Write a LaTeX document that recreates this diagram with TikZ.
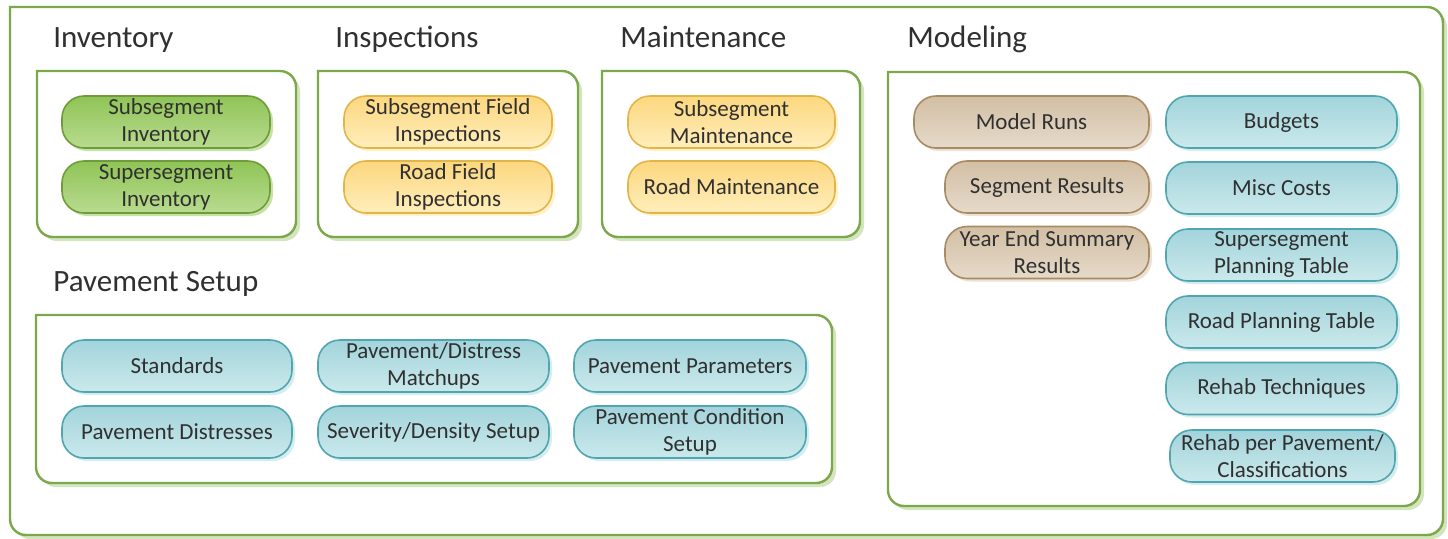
\documentclass[tikz,border=0pt]{standalone}
\usepackage{fontspec}
\setmainfont{Carlito}
\usetikzlibrary{shadows}

\definecolor{frameline}{HTML}{7BA84A}
\definecolor{frameshade}{HTML}{D3E4BE}
\definecolor{inkgray}{HTML}{303030}
\definecolor{greenline}{HTML}{6E9C3A}
\definecolor{greentop}{HTML}{8FC456}
\definecolor{greenbot}{HTML}{B9DB90}
\definecolor{yellowline}{HTML}{E2B548}
\definecolor{yellowtop}{HTML}{FCD77E}
\definecolor{yellowbot}{HTML}{FFEEBC}
\definecolor{tealline}{HTML}{4FA6B0}
\definecolor{tealtop}{HTML}{A2D4DB}
\definecolor{tealbot}{HTML}{CBE9EC}
\definecolor{brownline}{HTML}{A98A62}
\definecolor{browntop}{HTML}{D2BFA4}
\definecolor{brownbot}{HTML}{E6DACA}

\tikzset{
  frame/.style={draw=frameline, line width=1.2pt, line cap=rect, fill=white,
    rounded corners=8pt,
    drop shadow={shadow xshift=2pt, shadow yshift=-2pt, fill=frameshade, opacity=1}},
  title/.style={anchor=base west, text=inkgray, font=\fontsize{15.5}{18}\selectfont, inner sep=0pt},
  pill/.style={line width=0.8pt, rounded corners=11pt, align=center, text=inkgray,
    font=\fontsize{11.5}{13.5}\selectfont, inner sep=0pt},
  greenpill/.style={pill, draw=greenline, top color=greentop, bottom color=greenbot,
    drop shadow={shadow xshift=1.5pt, shadow yshift=-1.5pt, fill=greenbot, opacity=0.8}},
  yellowpill/.style={pill, draw=yellowline, top color=yellowtop, bottom color=yellowbot,
    drop shadow={shadow xshift=1.5pt, shadow yshift=-1.5pt, fill=yellowbot, opacity=0.8}},
  tealpill/.style={pill, draw=tealline, top color=tealtop, bottom color=tealbot,
    drop shadow={shadow xshift=1.5pt, shadow yshift=-1.5pt, fill=tealbot, opacity=0.8}},
  brownpill/.style={pill, draw=brownline, top color=browntop, bottom color=brownbot,
    drop shadow={shadow xshift=1.5pt, shadow yshift=-1.5pt, fill=brownbot, opacity=0.8}}
}

% group frame, sharp top left corner: x1, y1, x2, y2
\newcommand{\groupframe}[4]{%
  \draw[frame] (#1,#2) -- (#3,#2) -- (#3,#4) -- (#1,#4) -- (#1,#2);}

\begin{document}
\begin{tikzpicture}[x=0.5pt, y=-0.5pt]
    \useasboundingbox (0,0) rectangle (1448,538);

    % Frames
    \groupframe{10}{7}{1443}{535}
    \groupframe{37}{71}{296}{237}
    \groupframe{318}{71}{578}{237}
    \groupframe{602}{71}{860}{237}
    \groupframe{888}{72}{1420}{506}
    \groupframe{36}{315}{832}{483}

    % Titles
    \node[title] (tinventory) at (53,47) {Inventory};
    \node[title] (tinspections) at (335,47) {Inspections};
    \node[title] (tmaintenance) at (620,47) {Maintenance};
    \node[title] (tmodeling) at (907,47) {Modeling};
    \node[title] (tpavement) at (53,291) {Pavement Setup};

    % Inventory
    \foreach \n/\cx/\cy/\w/\txt in {invsub/166/122/208/{Subsegment\\Inventory},
                                    invsup/166/187/208/{Supersegment\\Inventory}} {
      \node[greenpill, minimum width=\w*0.5pt, minimum height=26pt] (\n) at (\cx,\cy) {\txt};
    }

    % Inspections and maintenance
    \foreach \n/\cx/\cy/\w/\txt in {inssub/448/122/208/{Subsegment Field\\Inspections},
                                    insroad/448/187/208/{Road Field\\Inspections},
                                    mntsub/731.5/122/207/{Subsegment\\Maintenance},
                                    mntroad/731.5/187/207/{Road Maintenance}} {
      \node[yellowpill, minimum width=\w*0.5pt, minimum height=26pt] (\n) at (\cx,\cy) {\txt};
    }

    % Pavement setup
    \foreach \n/\cx/\cy/\w/\txt in {standards/177/366/230/{Standards},
                                    distresses/177/432/230/{Pavement Distresses},
                                    matchups/433.5/366/231/{Pavement/Distress\\Matchups},
                                    severity/433.5/432/231/{Severity/Density Setup},
                                    parameters/690/366/232/{Pavement Parameters},
                                    condition/690/432/232/{Pavement Condition\\Setup}} {
      \node[tealpill, minimum width=\w*0.5pt, minimum height=26pt] (\n) at (\cx,\cy) {\txt};
    }

    % Modeling
    \foreach \n/\cx/\cy/\w/\txt in {runs/1031.5/122/235/{Model Runs},
                                    segres/1047/187/204/{Segment Results},
                                    yearend/1047/252.5/204/{Year End Summary\\Results}} {
      \node[brownpill, minimum width=\w*0.5pt, minimum height=26pt] (\n) at (\cx,\cy) {\txt};
    }
    \foreach \n/\cx/\cy/\w/\txt in {budgets/1281.5/122/231/{Budgets},
                                    misc/1281.5/188/231/{Misc Costs},
                                    superplan/1281.5/255/231/{Supersegment\\Planning Table},
                                    roadplan/1281.5/322/231/{Road Planning Table},
                                    rehabtech/1281.5/388.5/231/{Rehab Techniques},
                                    rehabpav/1282.5/456/225/{Rehab per Pavement/\\Classifications}} {
      \node[tealpill, minimum width=\w*0.5pt, minimum height=26pt] (\n) at (\cx,\cy) {\txt};
    }
\end{tikzpicture}
\end{document}
